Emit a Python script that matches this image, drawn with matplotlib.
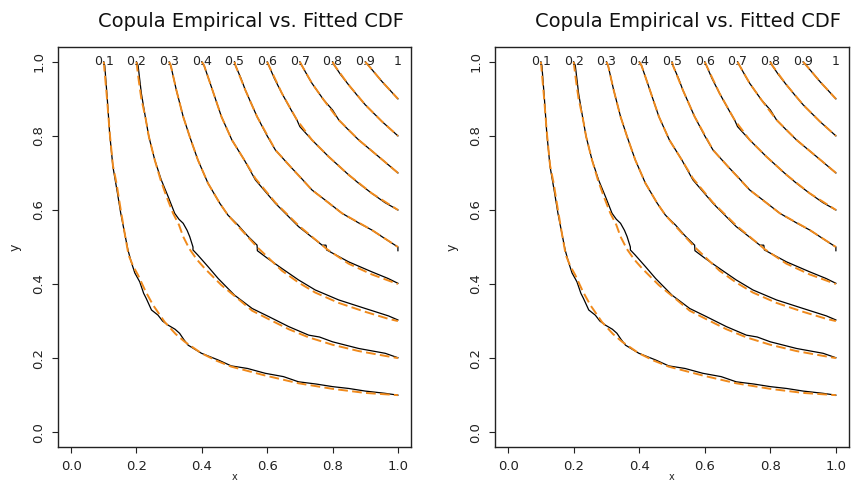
import matplotlib
matplotlib.use("Agg")
import matplotlib.pyplot as plt

# ---- data ----
levels = [0.1, 0.2, 0.3, 0.4, 0.5, 0.6, 0.7, 0.8, 0.9, 1.0]
level_labels = ["0.1", "0.2", "0.3", "0.4", "0.5", "0.6", "0.7", "0.8", "0.9", "1"]

# fitted copula CDF contours (orange dashed)
fit_01_x = [0.100, 0.110, 0.118, 0.128, 0.139, 0.152, 0.164, 0.176, 0.190, 0.205, 0.228, 0.251, 0.286, 0.320, 0.348, 0.399, 0.445, 0.490, 0.594, 0.696, 0.800, 0.900, 1.000]
fit_01_y = [1.000, 0.900, 0.810, 0.720, 0.672, 0.600, 0.537, 0.478, 0.448, 0.424, 0.380, 0.343, 0.298, 0.265, 0.244, 0.213, 0.193, 0.177, 0.153, 0.132, 0.117, 0.106, 0.100]
fit_02_x = [0.200, 0.207, 0.215, 0.227, 0.238, 0.256, 0.274, 0.292, 0.312, 0.330, 0.343, 0.362, 0.385, 0.409, 0.460, 0.511, 0.554, 0.605, 0.666, 0.727, 0.800, 0.880, 0.961, 1.000]
fit_02_y = [1.000, 0.950, 0.900, 0.852, 0.798, 0.735, 0.681, 0.636, 0.591, 0.560, 0.528, 0.495, 0.466, 0.442, 0.397, 0.360, 0.328, 0.305, 0.278, 0.256, 0.236, 0.219, 0.206, 0.200]
fit_03_x = [0.300, 0.305, 0.322, 0.343, 0.363, 0.388, 0.419, 0.455, 0.480, 0.511, 0.569, 0.645, 0.696, 0.747, 0.819, 0.900, 0.971, 1.000]
fit_03_y = [1.000, 0.990, 0.924, 0.852, 0.798, 0.735, 0.672, 0.618, 0.586, 0.556, 0.500, 0.436, 0.404, 0.377, 0.349, 0.325, 0.306, 0.300]
fit_04_x = [0.400, 0.407, 0.429, 0.460, 0.492, 0.530, 0.564, 0.625, 0.696, 0.783, 0.849, 0.920, 1.000]
fit_04_y = [1.000, 0.990, 0.933, 0.852, 0.789, 0.735, 0.685, 0.620, 0.558, 0.494, 0.455, 0.426, 0.400]
fit_05_x = [0.500, 0.503, 0.533, 0.569, 0.625, 0.671, 0.737, 0.829, 0.920, 1.000]
fit_05_y = [1.000, 0.990, 0.924, 0.852, 0.762, 0.717, 0.654, 0.591, 0.546, 0.500]
fit_06_x = [0.600, 0.605, 0.645, 0.691, 0.737, 0.788, 0.849, 0.920, 1.000]
fit_06_y = [1.000, 0.990, 0.915, 0.843, 0.789, 0.744, 0.695, 0.645, 0.600]
fit_07_x = [0.700, 0.706, 0.737, 0.773, 0.819, 0.880, 0.941, 1.000]
fit_07_y = [1.000, 0.990, 0.942, 0.897, 0.843, 0.789, 0.744, 0.700]
fit_08_x = [0.800, 0.806, 0.849, 0.900, 0.951, 1.000]
fit_08_y = [1.000, 0.990, 0.938, 0.884, 0.839, 0.800]
fit_09_x = [0.900, 0.910, 0.951, 1.000]
fit_09_y = [1.000, 0.990, 0.947, 0.900]

# empirical copula CDF contours (black solid)
emp_01_x = [0.100, 0.103, 0.111, 0.118, 0.128, 0.142, 0.152, 0.164, 0.174, 0.184, 0.195, 0.210, 0.222, 0.230, 0.246, 0.266, 0.280, 0.297, 0.318, 0.332, 0.345, 0.358, 0.399, 0.450, 0.490, 0.540, 0.594, 0.650, 0.696, 0.750, 0.800, 0.850, 0.900, 0.960, 1.000]
emp_01_y = [1.000, 0.990, 0.897, 0.807, 0.717, 0.645, 0.591, 0.537, 0.492, 0.460, 0.430, 0.406, 0.375, 0.361, 0.330, 0.316, 0.300, 0.289, 0.278, 0.267, 0.250, 0.235, 0.213, 0.195, 0.179, 0.172, 0.159, 0.150, 0.136, 0.130, 0.123, 0.118, 0.111, 0.105, 0.100]
emp_02_x = [0.200, 0.205, 0.215, 0.227, 0.238, 0.256, 0.276, 0.297, 0.317, 0.330, 0.343, 0.355, 0.363, 0.373, 0.373, 0.388, 0.419, 0.450, 0.480, 0.500, 0.554, 0.605, 0.666, 0.727, 0.760, 0.800, 0.880, 0.961, 1.000]
emp_02_y = [1.000, 0.990, 0.915, 0.852, 0.798, 0.735, 0.681, 0.636, 0.591, 0.575, 0.564, 0.545, 0.528, 0.500, 0.492, 0.478, 0.447, 0.415, 0.388, 0.370, 0.334, 0.312, 0.285, 0.262, 0.257, 0.244, 0.226, 0.213, 0.201]
emp_03_x = [0.300, 0.305, 0.322, 0.343, 0.363, 0.388, 0.419, 0.455, 0.480, 0.511, 0.540, 0.569, 0.570, 0.600, 0.645, 0.696, 0.747, 0.819, 0.900, 0.971, 1.000]
emp_03_y = [1.000, 0.990, 0.924, 0.852, 0.798, 0.735, 0.672, 0.618, 0.586, 0.559, 0.530, 0.505, 0.490, 0.470, 0.442, 0.411, 0.384, 0.357, 0.334, 0.314, 0.303]
emp_04_x = [0.400, 0.407, 0.429, 0.460, 0.492, 0.530, 0.564, 0.625, 0.696, 0.768, 0.780, 0.782, 0.849, 0.920, 0.970, 1.000]
emp_04_y = [1.000, 0.990, 0.933, 0.852, 0.789, 0.735, 0.681, 0.618, 0.555, 0.505, 0.505, 0.492, 0.460, 0.433, 0.415, 0.402]
emp_05_x = [0.500, 0.503, 0.520, 0.533, 0.550, 0.569, 0.600, 0.625, 0.671, 0.700, 0.737, 0.780, 0.829, 0.880, 0.920, 0.970, 1.000, 1.000]
emp_05_y = [1.000, 0.990, 0.955, 0.924, 0.890, 0.852, 0.800, 0.762, 0.717, 0.690, 0.654, 0.625, 0.591, 0.565, 0.546, 0.517, 0.500, 0.490]
emp_06_x = [0.600, 0.605, 0.622, 0.645, 0.670, 0.691, 0.700, 0.737, 0.788, 0.849, 0.880, 0.920, 0.960, 1.000]
emp_06_y = [1.000, 0.990, 0.955, 0.915, 0.875, 0.843, 0.825, 0.789, 0.744, 0.695, 0.672, 0.645, 0.620, 0.600]
emp_07_x = [0.700, 0.706, 0.725, 0.737, 0.773, 0.800, 0.819, 0.850, 0.880, 0.941, 1.000]
emp_07_y = [1.000, 0.990, 0.960, 0.942, 0.897, 0.870, 0.843, 0.815, 0.789, 0.744, 0.700]
emp_08_x = [0.800, 0.806, 0.825, 0.849, 0.875, 0.900, 0.951, 1.000]
emp_08_y = [1.000, 0.990, 0.965, 0.938, 0.910, 0.884, 0.839, 0.800]
emp_09_x = [0.900, 0.910, 0.951, 1.000]
emp_09_y = [1.000, 0.990, 0.947, 0.900]

fitted = [(fit_01_x, fit_01_y), (fit_02_x, fit_02_y), (fit_03_x, fit_03_y),
          (fit_04_x, fit_04_y), (fit_05_x, fit_05_y), (fit_06_x, fit_06_y),
          (fit_07_x, fit_07_y), (fit_08_x, fit_08_y), (fit_09_x, fit_09_y)]
empirical = [(emp_01_x, emp_01_y), (emp_02_x, emp_02_y), (emp_03_x, emp_03_y),
             (emp_04_x, emp_04_y), (emp_05_x, emp_05_y), (emp_06_x, emp_06_y),
             (emp_07_x, emp_07_y), (emp_08_x, emp_08_y), (emp_09_x, emp_09_y)]

ticks = [0.0, 0.2, 0.4, 0.6, 0.8, 1.0]
tick_labels = ["0.0", "0.2", "0.4", "0.6", "0.8", "1.0"]
title = "Copula Empirical vs. Fitted CDF"

# ---- drawing ----
W, H = 851, 483
fig = plt.figure(figsize=(W / 100, H / 100), dpi=100)
fig.patch.set_facecolor("white")

panels = [(58, 411, 251), (495, 849, 688)]
ORANGE = "#f08a1c"

for (left, right, tcx) in panels:
    ax = fig.add_axes([left / W, 1 - 447 / H, (right - left) / W, 400 / H])
    for xs, ys in empirical:
        ax.plot(xs, ys, color="black", lw=0.9, solid_joinstyle="miter")
    for xs, ys in fitted:
        ax.plot(xs, ys, color=ORANGE, lw=1.4, dashes=(5, 2.2))
    for lv, lab in zip(levels, level_labels):
        ax.text(lv, 1.0, lab, ha="center", va="center", fontsize=9, color="#222222")
    ax.set_xlim(-0.04, 1.04)
    ax.set_ylim(-0.04, 1.04)
    ax.set_xticks(ticks)
    ax.set_xticklabels(tick_labels)
    ax.set_yticks(ticks)
    ax.set_yticklabels(tick_labels)
    ax.tick_params(axis="both", direction="out", length=4, width=0.8,
                   labelsize=9.5, colors="#222222")
    ax.tick_params(axis="x", pad=5)
    ax.tick_params(axis="y", pad=5, labelrotation=90)
    for lab in ax.get_yticklabels():
        lab.set_va("center")
    for sp in ax.spines.values():
        sp.set_linewidth(1.0)
        sp.set_color("#222222")
    cx = (left + right) / 2
    fig.text(tcx / W, 1 - 21.5 / H, title, ha="center", va="center",
             fontsize=14, color="#111111")
    fig.text((left - 43) / W, 1 - 247 / H, "y", rotation=90, ha="center",
             va="center", fontsize=9, color="#222222")
    fig.text(cx / W, 1 - 482 / H, "x", ha="center", va="bottom",
             fontsize=7, color="#222222")

fig.savefig("out.png", dpi=100, facecolor="white")
